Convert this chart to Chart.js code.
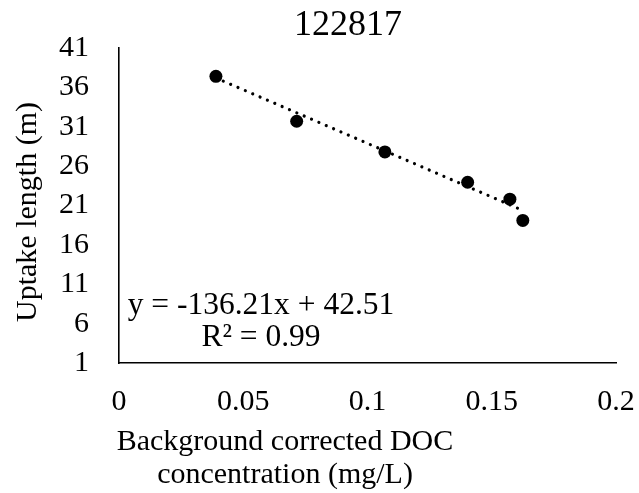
<!DOCTYPE html>
<html>
<head>
<meta charset="utf-8">
<script src="https://cdn.jsdelivr.net/npm/chart.js@4"></script>
<style>
  html, body { margin: 0; padding: 0; background: #fff; }
  #wrap { width: 639px; height: 493px; }
</style>
</head>
<body>
<div id="wrap"><canvas id="c" width="639" height="493"></canvas></div>
<script>
// Sample run 122817: uptake length vs. background-corrected DOC
const chartTitle = '122817';
const docConc = [0.039, 0.0715, 0.107, 0.1403, 0.1573, 0.1625];   // mg/L
const uptakeLength = [37.4, 31.7, 27.8, 23.95, 21.8, 19.1];       // m
const xTickValues = [0, 0.05, 0.1, 0.15, 0.2];
const yTickValues = [1, 6, 11, 16, 21, 26, 31, 36, 41];
const xTitleLines = ['Background corrected DOC', 'concentration (mg/L)'];
const yTitle = 'Uptake length (m)';

// Linear trendline reported on the chart
const slope = -136.21;
const intercept = 42.51;
const rSquared = 0.99;

const xMin = Math.min(...docConc), xMax = Math.max(...docConc);
const trendPoints = [
  { x: xMin, y: slope * xMin + intercept },
  { x: xMax, y: slope * xMax + intercept }
];

const FONT = '"Liberation Serif", "Times New Roman", serif';

const textPlugin = {
  id: 'textPlugin',
  afterDraw(chart) {
    const { ctx } = chart;
    ctx.save();
    ctx.fillStyle = '#000';
    ctx.textAlign = 'center';
    ctx.textBaseline = 'middle';

    // chart title
    ctx.font = '36px ' + FONT;
    ctx.fillText(chartTitle, 348, 26);

    // x-axis title (two lines)
    ctx.font = '30px ' + FONT;
    ctx.fillText(xTitleLines[0], 285, 442);
    ctx.fillText(xTitleLines[1], 285, 475);

    // y-axis title (rotated)
    ctx.save();
    ctx.translate(28, 212);
    ctx.rotate(-Math.PI / 2);
    ctx.fillText(yTitle, 0, 0);
    ctx.restore();

    // trendline equation
    ctx.font = '31.5px ' + FONT;
    const sign = intercept >= 0 ? '+' : '-';
    ctx.fillText('y = ' + slope.toFixed(2) + 'x ' + sign + ' ' + Math.abs(intercept).toFixed(2), 261, 306);
    ctx.fillText('R\u00B2 = ' + rSquared.toFixed(2), 261, 338);
    ctx.restore();
  }
};

new Chart(document.getElementById('c'), {
  type: 'scatter',
  data: {
    datasets: [
      {
        label: 'Uptake length',
        data: docConc.map((x, i) => ({ x, y: uptakeLength[i] })),
        pointRadius: 6.5,
        pointHoverRadius: 6.5,
        pointBackgroundColor: '#000',
        pointBorderColor: '#000',
        pointBorderWidth: 0,
        order: 1
      },
      {
        label: 'Linear trend',
        type: 'line',
        data: trendPoints,
        showLine: true,
        pointRadius: 0,
        borderColor: '#000',
        borderWidth: 3.2,
        borderDash: [0.01, 8],
        borderCapStyle: 'round',
        fill: false,
        order: 2
      }
    ]
  },
  options: {
    responsive: false,
    animation: false,
    events: [],
    layout: { padding: { top: 48, right: 23, bottom: 0, left: 0 } },
    plugins: {
      legend: { display: false },
      title: { display: false },
      tooltip: { enabled: false }
    },
    scales: {
      x: {
        type: 'linear',
        min: 0,
        max: 0.2,
        afterBuildTicks: s => { s.ticks = xTickValues.map(v => ({ value: v })); },
        afterFit: s => { s.height = 130; s.paddingLeft = 0; s.paddingRight = 0; },
        grid: { display: false, drawTicks: false },
        border: { display: true, color: '#000', width: 1.6 },
        ticks: {
          padding: 21,
          color: '#000',
          font: { family: FONT, size: 30 },
          maxRotation: 0,
          callback: v => String(+v.toFixed(2))
        }
      },
      y: {
        type: 'linear',
        min: 1,
        max: 41,
        afterBuildTicks: s => { s.ticks = yTickValues.map(v => ({ value: v })); },
        afterFit: s => { s.width = 119; s.paddingTop = 0; s.paddingBottom = 0; },
        grid: { display: false, drawTicks: false },
        border: { display: true, color: '#000', width: 1.6 },
        ticks: {
          padding: 30,
          color: '#000',
          font: { family: FONT, size: 30 },
          callback: v => String(v)
        }
      }
    }
  },
  plugins: [textPlugin]
});
</script>
</body>
</html>
